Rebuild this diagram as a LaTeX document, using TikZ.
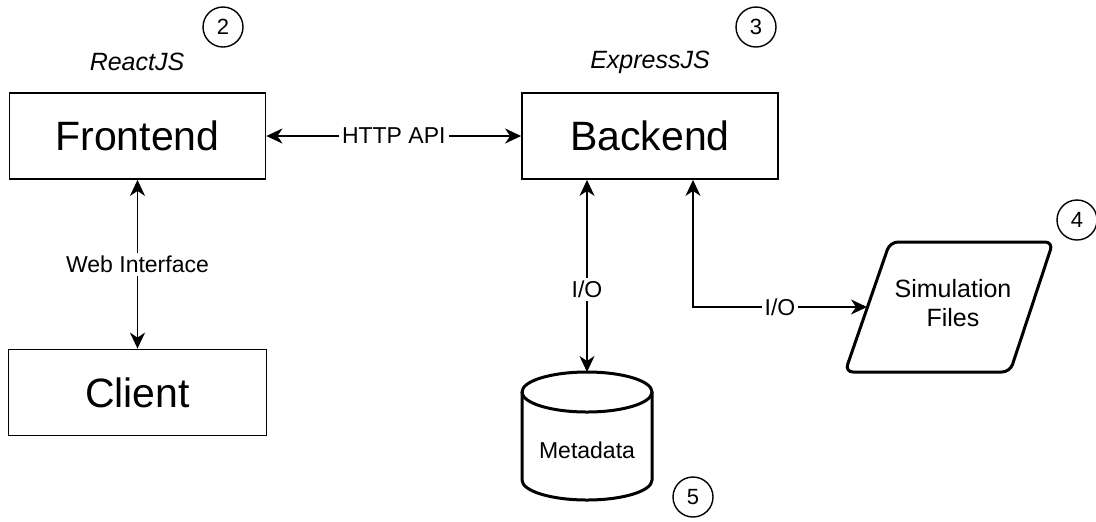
\documentclass[tikz,border=0pt]{standalone}
\usepackage{fontspec}
\setmainfont{Liberation Sans}
\usetikzlibrary{positioning,arrows.meta}
\tikzstyle{canvas} = [x = .5pt, y = -.5pt]
\tikzstyle{blockStyle} = [draw, line width=.9pt, minimum width=128pt, minimum height=43pt, inner sep=0pt, font=\fontsize{20.5}{24}\selectfont]
\tikzstyle{techText} = [font=\fontsize{12.5}{15}\selectfont\itshape]
\tikzstyle{markerStyle} = [draw, circle, line width=.7pt, minimum size=20pt, inner sep=0pt, font=\fontsize{11}{12}\selectfont]
\tikzstyle{linkLine} = [line width=.8pt, {Stealth[length=8pt, width=7.5pt, inset=2.5pt]}-{Stealth[length=8pt, width=7.5pt, inset=2.5pt]}]
\tikzstyle{linkText} = [fill=white, inner sep=1.5pt, font=\fontsize{11.5}{14}\selectfont]
\tikzstyle{shapeText} = [align=center, font=\fontsize{11.5}{14.5}\selectfont]
\tikzstyle{storeLine} = [line width=1.5pt]
\tikzstyle{filesLine} = [line width=1.5pt, rounded corners=4pt]
\newcommand{\stepMarker}[3]{\node [markerStyle] (#1) at (#2) {#3};}

\begin{document}
\begin{tikzpicture}[canvas]
  \useasboundingbox (0,0) rectangle (1096,521);
  \node [blockStyle] (frontend) at (137.5,136) {Frontend};
  \node [blockStyle] (backend) at (650,136) {Backend};
  \node [blockStyle, minimum width=129pt] (client) at (137.5,392.5) {Client};
  \node [techText] (react) at (137,62) {ReactJS};
  \node [techText] (express) at (650,62) {ExpressJS};
  \stepMarker{stepTwo}{223,27}{2}
  \stepMarker{stepThree}{756,27}{3}
  \stepMarker{stepFour}{1077,220}{4}
  \stepMarker{stepFive}{693,497}{5}

  % metadata store
  \node [shapeText] (metadata) at (587,450) {Metadata};
  \coordinate (metaTop) at (587,372);
  \draw [storeLine] (522,392) -- (522,480) arc [start angle=180, end angle=0, x radius=65, y radius=20] -- (652,392);
  \draw [storeLine] (587,392) ellipse [x radius=65, y radius=20];

  % simulation files
  \draw [filesLine] (971,242) -- (1053,242) -- (1010,372) -- (845,372) -- (890,242) -- cycle;
  \node [shapeText, font=\fontsize{12.5}{14.5}\selectfont] (simFiles) at (953,303) {Simulation\\Files};
  \coordinate (filesIn) at (867,307);

  % links
  \draw [linkLine] (frontend) -- node [linkText] {HTTP API} (backend);
  \draw [linkLine] (frontend) -- node [linkText] {Web Interface} (client);
  \draw [linkLine] (backend.south -| metaTop) -- node [linkText, pos=.57] {I/O} (metaTop);
  \draw [linkLine] ([xshift=21.5pt]backend.south) |- node [linkText, pos=.75] {I/O} (filesIn);
\end{tikzpicture}
\end{document}
